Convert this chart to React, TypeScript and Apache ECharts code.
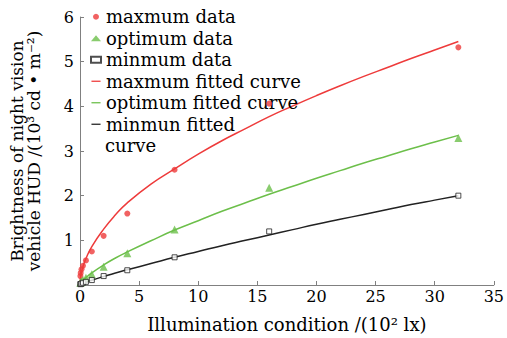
import React, { useEffect, useRef } from "react";
import * as echarts from "echarts";

const dataX = [0.03, 0.06, 0.125, 0.25, 0.5, 1, 2, 4, 8, 16, 32];
const maxData = [0.2, 0.27, 0.35, 0.43, 0.55, 0.75, 1.1, 1.6, 2.58, 4.06, 5.32];
const optData = [0.05, 0.06, 0.08, 0.11, 0.16, 0.24, 0.41, 0.71, 1.24, 2.18, 3.29];
const minData = [0.02, 0.02, 0.03, 0.05, 0.07, 0.11, 0.2, 0.33, 0.62, 1.2, 2.0];

const curveX = [0, 0.03, 0.1, 0.25, 0.5, 1, 2, 3, 4, 6, 8, 10, 12, 14, 16, 18, 20, 22, 24, 26, 28, 30, 32];
const maxCurve = [0, 0.13, 0.25, 0.41, 0.59, 0.86, 1.25, 1.57, 1.84, 2.26, 2.6, 2.93, 3.23, 3.5, 3.77, 4.01, 4.24, 4.46, 4.67, 4.87, 5.07, 5.26, 5.45];
const optCurve = [0, 0.02, 0.05, 0.1, 0.166, 0.273, 0.45, 0.605, 0.74, 0.99, 1.23, 1.44, 1.65, 1.84, 2.03, 2.21, 2.39, 2.56, 2.73, 2.89, 3.05, 3.2, 3.35];
const minCurve = [0, 0.006, 0.015, 0.033, 0.06, 0.107, 0.19, 0.27, 0.34, 0.48, 0.62, 0.75, 0.88, 1.0, 1.12, 1.24, 1.36, 1.47, 1.58, 1.69, 1.8, 1.9, 2.0];

const seriesNames = [
  "maxmum data",
  "optimum data",
  "minmum data",
  "maxmum fitted curve",
  "optimum fitted curve",
  "minmun fitted curve",
];
const wrappedTail = "curve";

const RED = "#ee3b3b";
const GREEN = "#6cbf4a";
const BLACK = "#222222";
const FONT = "DejaVu Serif";
const LINE_ICON = "path://M0,0 M0,2.6H10V4H0Z M10,6.6";

const zip = (xs: number[], ys: number[]) => xs.map((x, i) => [x, ys[i]]);

export default function App() {
  const ref = useRef<HTMLDivElement>(null);
  useEffect(() => {
    if (!ref.current) return;
    const chart = echarts.init(ref.current, undefined, { renderer: "svg" });
    const axisLine = { show: true, lineStyle: { color: "#808080", width: 1 } };
    const legendTop = 1;
    const legendLeft = 85;
    const pad = 5;
    const lineH = 21.5;
    chart.setOption({
      animation: false,
      backgroundColor: "#ffffff",
      textStyle: { fontFamily: FONT },
      grid: { left: 76, right: 7, top: 17, bottom: 45.5, containLabel: false },
      legend: {
        orient: "vertical",
        left: legendLeft,
        top: legendTop,
        padding: pad,
        itemWidth: 10,
        itemHeight: 6,
        itemGap: 0,
        data: seriesNames.map((n, i) => (i >= 3 ? { name: n, icon: LINE_ICON } : { name: n })),
        formatter: (n: string) => (n === "minmun fitted curve" ? "minmun fitted" : n),
        textStyle: { fontFamily: FONT, fontSize: 18, color: "#000", lineHeight: lineH },
      },
      graphic: [
        {
          type: "text",
          left: legendLeft + pad + 15,
          top: legendTop + pad + lineH * 6 + 1,
          style: {
            text: wrappedTail,
            fontFamily: FONT,
            fontSize: 18,
            lineHeight: lineH - 2,
            fill: "#000",
          },
        },
      ],
      xAxis: {
        type: "value",
        min: 0,
        max: 35,
        interval: 5,
        name: "Illumination condition /(10² lx)",
        nameLocation: "middle",
        nameGap: 30,
        nameTextStyle: { fontFamily: FONT, fontSize: 18, color: "#000" },
        axisLine,
        axisTick: { show: true, inside: true, length: 4, lineStyle: { color: "#808080" } },
        axisLabel: { fontFamily: FONT, fontSize: 16, color: "#000", margin: 3 },
        splitLine: { show: false },
      },
      yAxis: {
        type: "value",
        min: 0,
        max: 6,
        interval: 1,
        name: "Brightness of night vision\nvehicle HUD /(10³ cd • m⁻²)",
        nameLocation: "middle",
        nameGap: 38,
        nameRotate: 90,
        nameTextStyle: { fontFamily: FONT, fontSize: 17, color: "#000", lineHeight: 17 },
        axisLine,
        axisTick: { show: true, inside: true, length: 4, lineStyle: { color: "#808080" } },
        axisLabel: { fontFamily: FONT, fontSize: 16, color: "#000", margin: 6, showMinLabel: false },
        splitLine: { show: false },
      },
      series: [
        {
          name: seriesNames[0],
          type: "scatter",
          symbol: "circle",
          symbolSize: 6,
          itemStyle: { color: RED },
          data: zip(dataX, maxData),
          z: 5,
        },
        {
          name: seriesNames[1],
          type: "scatter",
          symbol: "triangle",
          symbolSize: 8,
          itemStyle: { color: GREEN },
          data: zip(dataX, optData),
          z: 5,
        },
        {
          name: seriesNames[2],
          type: "scatter",
          symbol: "rect",
          symbolSize: 5,
          itemStyle: { color: "#ffffff", borderColor: BLACK, borderWidth: 1 },
          data: zip(dataX, minData),
          z: 5,
        },
        {
          name: seriesNames[3],
          type: "line",
          smooth: true,
          symbol: "none",
          lineStyle: { color: RED, width: 1.5 },
          itemStyle: { color: RED },
          data: zip(curveX, maxCurve),
        },
        {
          name: seriesNames[4],
          type: "line",
          smooth: true,
          symbol: "none",
          lineStyle: { color: GREEN, width: 1.5 },
          itemStyle: { color: GREEN },
          data: zip(curveX, optCurve),
        },
        {
          name: seriesNames[5],
          type: "line",
          smooth: true,
          symbol: "none",
          lineStyle: { color: BLACK, width: 1.5 },
          itemStyle: { color: BLACK },
          data: zip(curveX, minCurve),
        },
      ],
    });
    return () => chart.dispose();
  }, []);
  return (
    <div
      ref={ref}
      style={{ position: "fixed", left: 0, top: 0, width: 507, height: 338, background: "#fff" }}
    />
  );
}
